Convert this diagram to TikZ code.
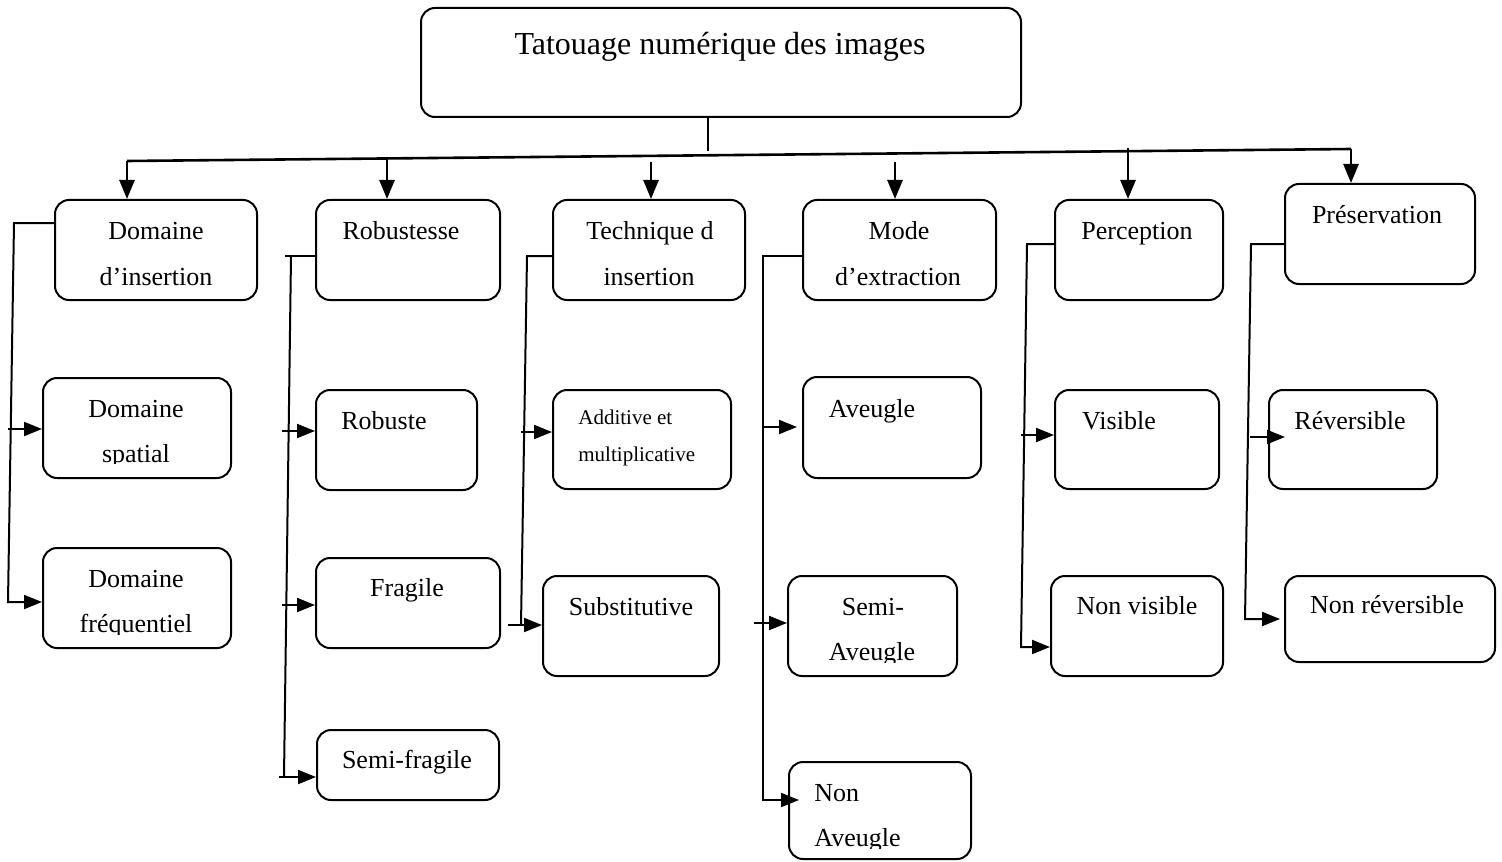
\documentclass[tikz,border=0pt]{standalone}
\usepackage{fontspec}
\setmainfont{Liberation Serif}
\usetikzlibrary{arrows.meta,fit}
\begin{document}
\begin{tikzpicture}[x=0.5pt,y=-0.5pt,
  cbox/.style={draw,line width=1pt,rounded corners=7pt,inner sep=0pt},
  lbl/.style={inner sep=0pt,anchor=base,font=\fontsize{13}{15}\selectfont},
  lblL/.style={lbl,anchor=base west},
  small/.style={inner sep=0pt,anchor=base west,font=\fontsize{10.5}{12}\selectfont},
  conn/.style={line width=1pt},
  arr/.style={conn,-{Triangle[length=9pt,width=7pt]}},
  trunk/.style={line width=1.3pt},
  arrT/.style={trunk,-{Triangle[length=9.5pt,width=7.5pt]}}]
\useasboundingbox (0,0) rectangle (1502,861);

% ---- boxes ----
\node[cbox,fit={(421,8)(1021,117)}] (title) {};
\node[cbox,fit={(55,200)(257,300)}] (dom) {};
\node[cbox,fit={(316,200)(500,300)}] (rob) {};
\node[cbox,fit={(553,200)(745,300)}] (tech) {};
\node[cbox,fit={(803,200)(996,300)}] (mode) {};
\node[cbox,fit={(1055,200)(1223,300)}] (perc) {};
\node[cbox,fit={(1285,184)(1475,284)}] (pres) {};

\node[cbox,fit={(43,378)(231,478)}] (spat) {};
\node[cbox,fit={(43,548)(231,648)}] (freq) {};
\node[cbox,fit={(316,390)(477,490)}] (robu) {};
\node[cbox,fit={(316,558)(500,648)}] (frag) {};
\node[cbox,fit={(317,730)(499,800)}] (semf) {};
\node[cbox,fit={(553,390)(731,489)}] (addi) {};
\node[cbox,fit={(543,576)(719,676)}] (subs) {};
\node[cbox,fit={(803,377)(981,478)}] (aveu) {};
\node[cbox,fit={(788,576)(957,676)}] (semA) {};
\node[cbox,fit={(789,762)(971,859)}] (nonA) {};
\node[cbox,fit={(1055,390)(1219,489)}] (visi) {};
\node[cbox,fit={(1051,576)(1223,676)}] (nvis) {};
\node[cbox,fit={(1269,390)(1437,489)}] (reve) {};
\node[cbox,fit={(1285,576)(1495,662)}] (nrev) {};

% ---- labels ----
\node[lbl,font=\fontsize{16}{18}\selectfont] (titleT) at (720,55) {Tatouage numérique des images};
\node[lbl] (domT1) at (156,239) {Domaine};
\node[lbl] (domT2) at (156,285) {d’insertion};
\node[lbl] (robT) at (401,239) {Robustesse};
\node[lbl] (techT1) at (650,239) {Technique d};
\node[lbl] (techT2) at (649,285) {insertion};
\node[lbl] (modeT1) at (899,239) {Mode};
\node[lbl] (modeT2) at (898,285) {d’extraction};
\node[lbl] (percT) at (1137,239) {Perception};
\node[lbl] (presT) at (1377,223) {Préservation};

\node[lbl] (spatT1) at (136,417) {Domaine};
\begin{scope}
  \clip (0,0) rectangle (1502,463);
  \node[lbl] (spatT2) at (136,462) {spatial};
\end{scope}
\node[lbl] (freqT1) at (136,587) {Domaine};
\begin{scope}
  \clip (0,0) rectangle (1502,634);
  \node[lbl] (freqT2) at (136,632) {fréquentiel};
\end{scope}
\node[lbl] (robuT) at (384,429) {Robuste};
\node[lbl] (fragT) at (407,596) {Fragile};
\node[lbl] (semfT) at (407,768) {Semi-fragile};
\node[small] (addiT1) at (578,424) {Additive et};
\node[small] (addiT2) at (578,461) {multiplicative};
\node[lbl] (subsT) at (631,615) {Substitutive};
\node[lbl] (aveuT) at (872,417) {Aveugle};
\node[lbl] (semAT1) at (873,615) {Semi-};
\begin{scope}
  \clip (0,0) rectangle (1502,662);
  \node[lbl] (semAT2) at (872,660) {Aveugle};
\end{scope}
\node[lblL] (nonAT1) at (814,801) {Non};
\begin{scope}
  \clip (0,0) rectangle (1502,848);
  \node[lblL] (nonAT2) at (814,846) {Aveugle};
\end{scope}
\node[lbl] (visiT) at (1119,429) {Visible};
\node[lbl] (nvisT) at (1137,614) {Non visible};
\node[lbl] (reveT) at (1350,429) {Réversible};
\node[lbl] (nrevT) at (1387,613) {Non réversible};

% ---- trunk from the title to the six categories ----
\coordinate (stub) at (708,117);
\coordinate (stubE) at (708,151);
\draw[trunk] (stub) -- (stubE);
\coordinate (tL) at (127,161);
\coordinate (tR) at (1351,149);
\draw[trunk] (tL) -- (tR);
\coordinate (t2) at (387,159);
\coordinate (t3) at (651,162);
\coordinate (t4) at (895,162);
\coordinate (t5) at (1128,148);
\draw[arrT] (tL) -- (tL |- dom.north);
\draw[arrT] (t2) -- (t2 |- rob.north);
\draw[arrT] (t3) -- (t3 |- tech.north);
\draw[arrT] (t4) -- (t4 |- mode.north);
\draw[arrT] (t5) -- (t5 |- perc.north);
\draw[arrT] (tR) -- (tR |- pres.north);

% ---- Domaine d'insertion ----
\coordinate (b1t) at (14,223);
\coordinate (b1b) at (8,602);
\coordinate (b1c) at (8,429);
\draw[arr] (dom.west |- b1t) -- (b1t) -- (b1b) -- (b1b -| freq.west);
\draw[arr] (b1c) -- (b1c -| spat.west);

% ---- Robustesse ----
\coordinate (b2h) at (285,256);
\coordinate (b2t) at (291,256);
\coordinate (b2b) at (284,777);
\coordinate (b2e) at (279,777);
\coordinate (b2c) at (282,431);
\coordinate (b2d) at (282,605);
\draw[conn] (b2h) -- (b2h -| rob.west);
\draw[conn] (b2t) -- (b2b);
\draw[arr] (b2e) -- (b2e -| semf.west);
\draw[arr] (b2c) -- (b2c -| robu.west);
\draw[arr] (b2d) -- (b2d -| frag.west);

% ---- Technique d'insertion ----
\coordinate (b3t) at (527,256);
\coordinate (b3b) at (521,625);
\coordinate (b3c) at (521,432);
\coordinate (b3d) at (508,625);
\draw[conn] (tech.west |- b3t) -- (b3t) -- (b3b);
\draw[arr] (b3c) -- (b3c -| addi.west);
\draw[arr] (b3d) -- (b3d -| subs.west);

% ---- Mode d'extraction ----
\coordinate (b4t) at (763,256);
\coordinate (b4b) at (763,800);
\coordinate (b4e) at (799,800);
\coordinate (b4c) at (763,427);
\coordinate (b4ce) at (797,427);
\coordinate (b4d) at (754,623);
\draw[arr] (mode.west |- b4t) -- (b4t) -- (b4b) -- (b4e);
\draw[arr] (b4c) -- (b4ce);
\draw[arr] (b4d) -- (b4d -| semA.west);

% ---- Perception ----
\coordinate (b5t) at (1027,244);
\coordinate (b5b) at (1021,647);
\coordinate (b5c) at (1021,435);
\draw[arr] (perc.west |- b5t) -- (b5t) -- (b5b) -- (b5b -| nvis.west);
\draw[arr] (b5c) -- (b5c -| visi.west);

% ---- Préservation ----
\coordinate (b6t) at (1251,244);
\coordinate (b6b) at (1245,619);
\coordinate (b6be) at (1280,619);
\coordinate (b6c) at (1250,437);
\coordinate (b6ce) at (1285,437);
\draw[arr] (pres.west |- b6t) -- (b6t) -- (b6b) -- (b6be);
\draw[arr] (b6c) -- (b6ce);
\end{tikzpicture}
\end{document}
